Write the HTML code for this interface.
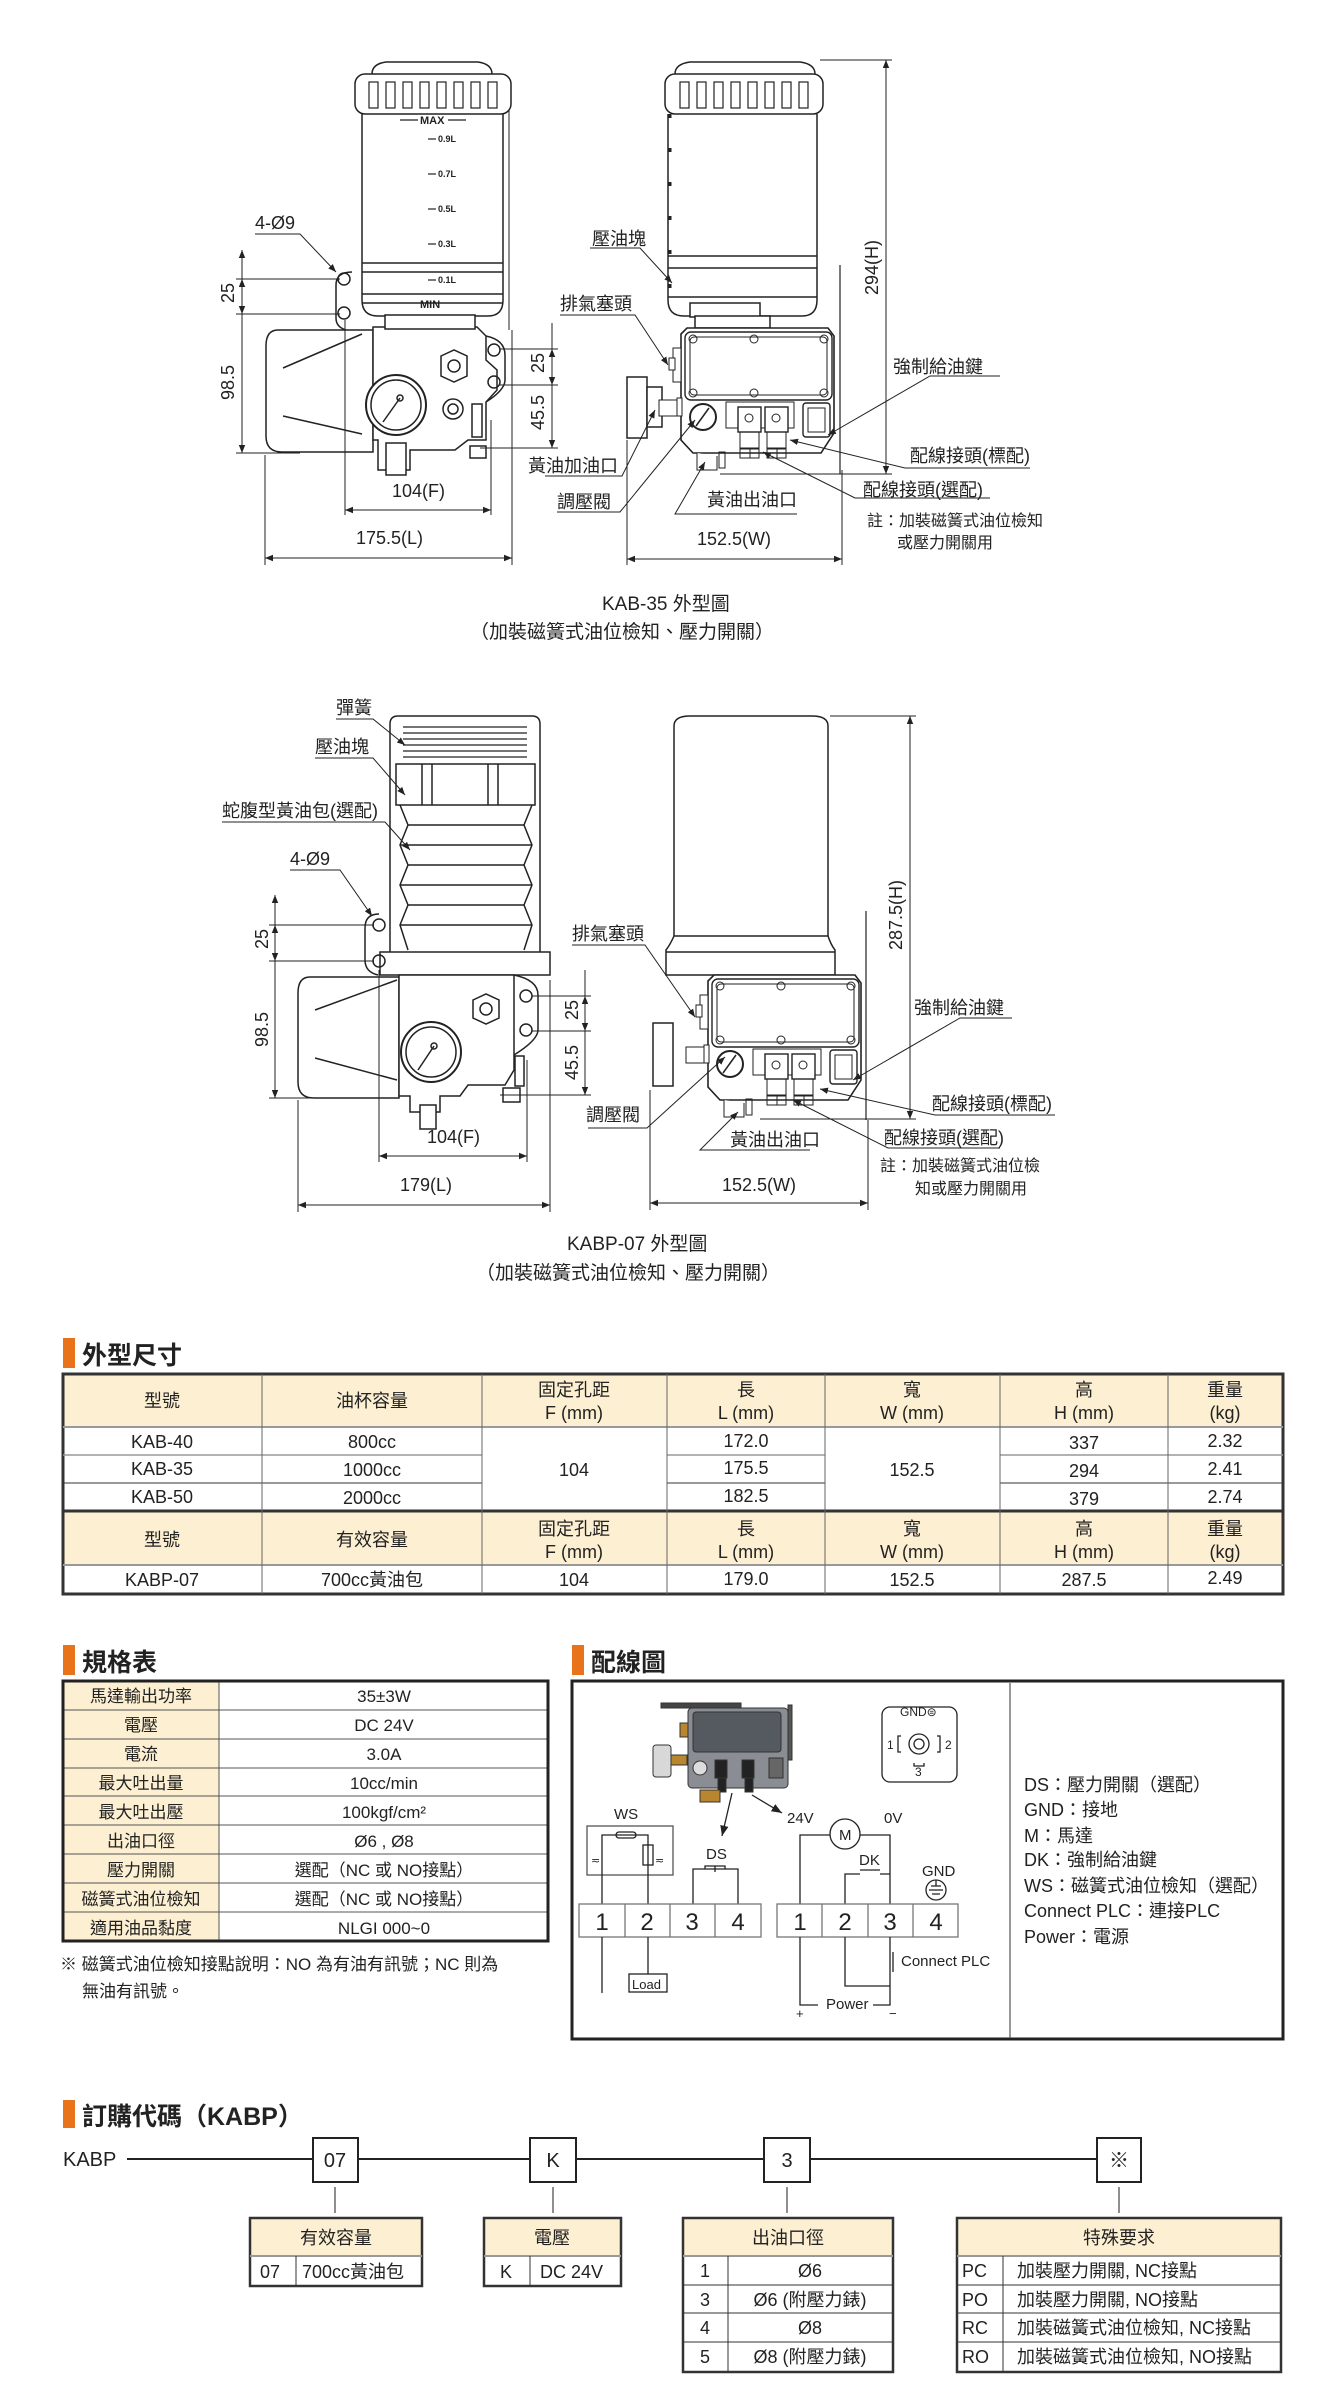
<!DOCTYPE html>
<html><head><meta charset="utf-8"><style>
html,body{margin:0;padding:0;background:#fff}
svg{display:block}
text{font-family:"Liberation Sans","Noto Sans CJK TC",sans-serif;fill:#222}
</style></head><body>
<svg width="1337" height="2395" viewBox="0 0 1337 2395" xmlns="http://www.w3.org/2000/svg">
<defs>
<marker id="ar" viewBox="0 0 10 10" refX="10" refY="5" markerWidth="8" markerHeight="8" orient="auto-start-reverse"><path d="M0,1 L10,5 L0,9 z" fill="#222"/></marker>
<g id="ribs" stroke="#222" stroke-width="1.2" fill="none">
 <rect x="0" y="0" width="9" height="26"/><rect x="17" y="0" width="9" height="26"/><rect x="34" y="0" width="9" height="26"/><rect x="51" y="0" width="9" height="26"/><rect x="68" y="0" width="9" height="26"/><rect x="85" y="0" width="9" height="26"/><rect x="102" y="0" width="9" height="26"/><rect x="119" y="0" width="9" height="26"/>
</g>
<g id="cbox">
 <path d="M6,0 H147 L153,8 V105 L140,125 H12 L0,112 V6 Z" fill="#fff" stroke="#222" stroke-width="1.6"/>
 <rect x="4" y="4" width="147" height="68" rx="6" fill="none" stroke="#222" stroke-width="1.4"/>
 <rect x="9" y="9" width="137" height="58" rx="4" fill="none" stroke="#222" stroke-width="1"/>
 <circle cx="12" cy="11" r="4" fill="none" stroke="#222"/><circle cx="73" cy="11" r="4" fill="none" stroke="#222"/><circle cx="143" cy="11" r="4" fill="none" stroke="#222"/>
 <circle cx="12" cy="65" r="4" fill="none" stroke="#222"/><circle cx="73" cy="65" r="4" fill="none" stroke="#222"/><circle cx="143" cy="65" r="4" fill="none" stroke="#222"/>
 <path d="M45,74 H113 V100 H45 Z" fill="none" stroke="#222"/>
 <circle cx="22" cy="89" r="13" fill="#fff" stroke="#222" stroke-width="2"/><line x1="15" y1="98" x2="28" y2="80" stroke="#222" stroke-width="1.5"/>
 <rect x="57" y="79" width="23" height="25" fill="#fff" stroke="#222" stroke-width="1.4"/><circle cx="68" cy="90" r="4" fill="none" stroke="#222"/>
 <rect x="84" y="79" width="23" height="25" fill="#fff" stroke="#222" stroke-width="1.4"/><circle cx="95" cy="90" r="4" fill="none" stroke="#222"/>
 <rect x="59" y="104" width="19" height="16" fill="none" stroke="#222"/><rect x="86" y="104" width="19" height="16" fill="none" stroke="#222"/>
 <rect x="59" y="121" width="10" height="9" fill="none" stroke="#222"/><rect x="69" y="121" width="9" height="9" fill="none" stroke="#222"/>
 <rect x="86" y="121" width="10" height="9" fill="none" stroke="#222"/><rect x="96" y="121" width="9" height="9" fill="none" stroke="#222"/>
 <rect x="122" y="75" width="27" height="34" rx="3" fill="none" stroke="#222" stroke-width="1.4"/><rect x="127" y="80" width="17" height="24" fill="none" stroke="#222"/>
 <rect x="-8" y="20" width="8" height="34" fill="#fff" stroke="#222"/><rect x="-12" y="30" width="6" height="12" fill="#fff" stroke="#222"/>
 <rect x="-4" y="70" width="5" height="18" fill="#fff" stroke="#222"/><rect x="-22" y="72" width="18" height="16" fill="#fff" stroke="#222"/>
 <path d="M16,125 V142 H36 V128" fill="#fff" stroke="#222"/><rect x="38" y="124" width="6" height="16" fill="none" stroke="#222"/>
</g>
</defs>

<!-- ============ DIAGRAM 1 : KAB-35 ============ -->
<g stroke="#222" fill="none" stroke-width="1.5">
 <path d="M372,74 Q372,64 386,62 H478 Q492,64 492,74" fill="#fff"/>
 <rect x="355" y="74" width="156" height="40" rx="10" fill="#fff"/>
 <path d="M362,114 V300 Q362,316 378,316 H488 Q503,316 503,300 V114"/>
 <line x1="362" y1="263" x2="503" y2="263"/><line x1="362" y1="272" x2="503" y2="272"/>
 <line x1="362" y1="294" x2="503" y2="294"/><line x1="362" y1="303" x2="503" y2="303"/>
 <line x1="509" y1="110" x2="509" y2="330" stroke-width="1"/>
 <path d="M352,272 Q336,272 336,285 V318 Q336,327 346,330" fill="#fff"/>
 <circle cx="344" cy="279" r="6"/><circle cx="344" cy="313" r="6"/>
 <path d="M278,330 H373 V452 H282 Q266,452 266,436 V346 Q266,330 278,330 Z" fill="#fff"/>
 <line x1="283" y1="368" x2="362" y2="334"/><line x1="283" y1="416" x2="362" y2="434"/>
 <path d="M373,327 H477 L486,336 V360 L497,370 V390 L486,402 V440 H468 L455,450 H410 V470 H378 V440 H373 Z" fill="#fff"/>
 <rect x="385" y="315" width="90" height="14" fill="#fff"/>
 <path d="M486,336 Q505,340 505,355 V380 Q505,390 486,402"/>
 <circle cx="494" cy="350" r="6"/><circle cx="494" cy="382" r="6"/>
 <circle cx="396" cy="405" r="30" fill="#fff" stroke-width="2"/><circle cx="396" cy="405" r="25"/>
 <line x1="383" y1="422" x2="400" y2="398"/><circle cx="400" cy="398" r="3"/>
 <path d="M441,356 L454,350 L467,356 V376 L454,382 L441,376 Z" fill="#fff"/><circle cx="454" cy="366" r="6"/>
 <circle cx="453" cy="409" r="10"/><circle cx="453" cy="409" r="5"/>
 <rect x="386" y="443" width="20" height="32" fill="#fff"/>
 <rect x="472" y="404" width="10" height="33" fill="#fff"/><rect x="470" y="446" width="16" height="12" fill="#fff"/>
 <path d="M675,74 Q675,64 690,62 H800 Q815,64 815,74" fill="#fff"/>
 <rect x="665" y="74" width="158" height="40" rx="10" fill="#fff"/>
 <path d="M668,114 V300 Q668,316 684,316 H802 Q817,316 817,300 V114"/>
 <line x1="668" y1="256" x2="817" y2="256"/><line x1="668" y1="268" x2="817" y2="268"/><line x1="668" y1="297" x2="817" y2="297"/>
 <line x1="670" y1="114" x2="670" y2="300" stroke-width="3" stroke-dasharray="4,30"/>
 <rect x="690" y="303" width="70" height="14" fill="#fff"/>
 <rect x="695" y="316" width="75" height="12" fill="#fff"/>
 <line x1="840" y1="265" x2="840" y2="474" stroke-width="1.2"/>
 <rect x="627" y="377" width="20" height="61" fill="#fff"/>
 <rect x="647" y="387" width="15" height="40" fill="#fff"/>
</g>
<use href="#ribs" x="369" y="82"/>
<use href="#ribs" x="680" y="82"/>
<use href="#cbox" x="681" y="328"/>
<g font-size="9" font-weight="bold">
 <text x="420" y="124" font-size="11">MAX</text>
 <text x="438" y="142">0.9L</text><text x="438" y="177">0.7L</text><text x="438" y="212">0.5L</text><text x="438" y="247">0.3L</text><text x="438" y="283">0.1L</text>
 <text x="420" y="308" font-size="11">MIN</text>
</g>
<g stroke="#222" stroke-width="1.2">
 <line x1="400" y1="120" x2="418" y2="120"/><line x1="448" y1="120" x2="466" y2="120"/>
 <line x1="428" y1="139" x2="436" y2="139"/><line x1="428" y1="174" x2="436" y2="174"/><line x1="428" y1="209" x2="436" y2="209"/><line x1="428" y1="244" x2="436" y2="244"/><line x1="428" y1="280" x2="436" y2="280"/>
</g>
<g stroke="#222" stroke-width="1" fill="none">
 <line x1="236" y1="279" x2="340" y2="279"/><line x1="236" y1="314" x2="340" y2="314"/><line x1="236" y1="453" x2="300" y2="453"/>
 <line x1="242" y1="250" x2="242" y2="453" marker-start="url(#ar)" marker-end="url(#ar)"/>
 <line x1="242" y1="279" x2="242" y2="314" marker-start="url(#ar)" marker-end="url(#ar)"/>
 <line x1="500" y1="349" x2="558" y2="349"/><line x1="500" y1="385" x2="558" y2="385"/><line x1="480" y1="448" x2="558" y2="448"/>
 <line x1="552" y1="323" x2="552" y2="385" marker-end="url(#ar)"/><line x1="552" y1="349" x2="552" y2="448" marker-start="url(#ar)" marker-end="url(#ar)"/>
 <line x1="345" y1="320" x2="345" y2="515"/><line x1="491" y1="420" x2="491" y2="515"/>
 <line x1="345" y1="510" x2="491" y2="510" marker-start="url(#ar)" marker-end="url(#ar)"/>
 <line x1="265" y1="455" x2="265" y2="565"/><line x1="512" y1="330" x2="512" y2="565"/>
 <line x1="265" y1="558" x2="512" y2="558" marker-start="url(#ar)" marker-end="url(#ar)"/>
 <line x1="627" y1="440" x2="627" y2="565"/><line x1="842" y1="470" x2="842" y2="565"/>
 <line x1="627" y1="559" x2="842" y2="559" marker-start="url(#ar)" marker-end="url(#ar)"/>
 <line x1="820" y1="60" x2="892" y2="60"/><line x1="720" y1="474" x2="892" y2="474"/>
 <line x1="886" y1="60" x2="886" y2="474" marker-start="url(#ar)" marker-end="url(#ar)"/>
 <polyline points="255,234 300,234 336,272" marker-end="url(#ar)"/>
 <polyline points="590,248 640,248 672,283" marker-end="url(#ar)"/>
 <polyline points="560,315 635,315 668,365" marker-end="url(#ar)"/>
 <polyline points="545,476 622,476 655,410" marker-end="url(#ar)"/>
 <polyline points="557,512 620,512 695,420" marker-end="url(#ar)"/>
 <polyline points="797,514 675,514 705,462" marker-end="url(#ar)"/>
 <polyline points="1000,376 930,376 828,435" marker-end="url(#ar)"/>
 <polyline points="1030,468 905,468 790,440" marker-end="url(#ar)"/>
 <polyline points="990,498 855,498 763,452" marker-end="url(#ar)"/>
</g>
<g font-size="18">
 <text x="255" y="229">4-Ø9</text>
 <text transform="translate(234,303) rotate(-90)">25</text>
 <text transform="translate(234,400) rotate(-90)">98.5</text>
 <text transform="translate(544,373) rotate(-90)">25</text>
 <text transform="translate(544,430) rotate(-90)">45.5</text>
 <text transform="translate(878,295) rotate(-90)">294(H)</text>
 <text x="392" y="497">104(F)</text>
 <text x="356" y="544">175.5(L)</text>
 <text x="697" y="545">152.5(W)</text>
 <text x="592" y="245">壓油塊</text>
 <text x="560" y="310">排氣塞頭</text>
 <text x="528" y="472">黃油加油口</text>
 <text x="557" y="508">調壓閥</text>
 <text x="707" y="506">黃油出油口</text>
 <text x="893" y="373">強制給油鍵</text>
 <text x="910" y="462">配線接頭(標配)</text>
 <text x="863" y="496">配線接頭(選配)</text>
 <text x="867" y="526" font-size="16">註：加裝磁簧式油位檢知</text>
 <text x="897" y="548" font-size="16">或壓力開關用</text>
 <text x="602" y="610" font-size="19">KAB-35 外型圖</text>
 <text x="470" y="638" font-size="19">（加裝磁簧式油位檢知、壓力開關）</text>
</g>

<!-- ============ DIAGRAM 2 : KABP-07 ============ -->
<g stroke="#222" fill="none" stroke-width="1.5">
 <path d="M390,952 V724 Q390,716 398,716 H532 Q540,716 540,724 V952" fill="#fff"/>
 <g stroke-width="1.2"><path d="M403,727 H527 M403,733 H527 M403,739 H527 M403,745 H527 M403,751 H527 M403,757 H527"/></g>
 <rect x="396" y="764" width="139" height="41" fill="#fff"/>
 <line x1="422" y1="764" x2="422" y2="805"/><line x1="432" y1="764" x2="432" y2="805"/>
 <line x1="488" y1="764" x2="488" y2="805"/><line x1="498" y1="764" x2="498" y2="805"/>
 <path d="M400,805 L408,825 L400,845 L408,865 L400,885 L408,905 L400,925 L408,950 M532,805 L524,825 L532,845 L524,865 L532,885 L524,905 L532,925 L524,950"/>
 <path d="M408,825 H524 M400,845 H532 M408,865 H524 M400,885 H532 M408,905 H524 M400,925 H532"/>
 <rect x="380" y="952" width="170" height="23" fill="#fff"/>
 <path d="M379,914 Q365,914 365,928 V960 Q365,972 378,975" fill="#fff"/>
 <circle cx="379" cy="925" r="6"/><circle cx="379" cy="961" r="6"/>
 <path d="M310,977 H399 V1098 H314 Q298,1098 298,1082 V993 Q298,977 310,977 Z" fill="#fff"/>
 <line x1="315" y1="1010" x2="397" y2="980"/><line x1="315" y1="1058" x2="397" y2="1080"/>
 <path d="M399,975 H514 V1070 L505,1085 H468 L460,1096 H440 V1112 H410 V1096 H399 Z" fill="#fff"/>
 <path d="M514,975 Q538,980 538,995 V1030 Q538,1040 514,1055"/>
 <circle cx="526" cy="996" r="6"/><circle cx="526" cy="1030" r="6"/>
 <circle cx="431" cy="1052" r="30" fill="#fff" stroke-width="2"/><circle cx="431" cy="1052" r="25"/>
 <line x1="418" y1="1070" x2="434" y2="1046"/><circle cx="434" cy="1046" r="3"/>
 <path d="M473,1000 L486,994 L499,1000 V1018 L486,1024 L473,1018 Z" fill="#fff"/><circle cx="486" cy="1009" r="6"/>
 <rect x="515" y="1056" width="9" height="30" fill="#fff"/><rect x="503" y="1088" width="17" height="14" fill="#fff"/>
 <rect x="420" y="1105" width="16" height="24" fill="#fff"/>
 <path d="M674,936 V726 Q674,716 690,716 H812 Q828,716 828,726 V936" fill="#fff"/>
 <path d="M674,936 Q670,945 666,950 V975 H835 V950 Q831,945 828,936 Z" fill="#fff"/>
 <line x1="666" y1="952" x2="835" y2="952"/>
 <line x1="866" y1="911" x2="866" y2="1120" stroke-width="1.2"/>
 <rect x="653" y="1023" width="20" height="63" fill="#fff"/>
</g>
<use href="#cbox" x="708" y="975"/>
<g stroke="#222" stroke-width="1" fill="none">
 <line x1="269" y1="925" x2="374" y2="925"/><line x1="269" y1="961" x2="374" y2="961"/><line x1="269" y1="1098" x2="330" y2="1098"/>
 <line x1="275" y1="895" x2="275" y2="1098" marker-start="url(#ar)" marker-end="url(#ar)"/>
 <line x1="275" y1="925" x2="275" y2="961" marker-start="url(#ar)" marker-end="url(#ar)"/>
 <line x1="532" y1="996" x2="591" y2="996"/><line x1="532" y1="1031" x2="591" y2="1031"/><line x1="500" y1="1095" x2="591" y2="1095"/>
 <line x1="585" y1="970" x2="585" y2="1031" marker-end="url(#ar)"/><line x1="585" y1="996" x2="585" y2="1095" marker-start="url(#ar)" marker-end="url(#ar)"/>
 <line x1="379" y1="970" x2="379" y2="1162"/><line x1="527" y1="1060" x2="527" y2="1162"/>
 <line x1="379" y1="1156" x2="527" y2="1156" marker-start="url(#ar)" marker-end="url(#ar)"/>
 <line x1="298" y1="1100" x2="298" y2="1212"/><line x1="550" y1="980" x2="550" y2="1212"/>
 <line x1="298" y1="1205" x2="550" y2="1205" marker-start="url(#ar)" marker-end="url(#ar)"/>
 <line x1="650" y1="1090" x2="650" y2="1210"/><line x1="868" y1="1120" x2="868" y2="1210"/>
 <line x1="650" y1="1203" x2="868" y2="1203" marker-start="url(#ar)" marker-end="url(#ar)"/>
 <line x1="830" y1="716" x2="916" y2="716"/><line x1="760" y1="1119" x2="916" y2="1119"/>
 <line x1="910" y1="716" x2="910" y2="1119" marker-start="url(#ar)" marker-end="url(#ar)"/>
 <polyline points="336,719 373,719 405,745" marker-end="url(#ar)"/>
 <polyline points="315,758 373,758 405,795" marker-end="url(#ar)"/>
 <polyline points="222,822 385,822 410,850" marker-end="url(#ar)"/>
 <polyline points="290,870 340,870 372,916" marker-end="url(#ar)"/>
 <polyline points="572,945 645,945 695,1017" marker-end="url(#ar)"/>
 <polyline points="588,1128 647,1128 725,1057" marker-end="url(#ar)"/>
 <polyline points="810,1150 700,1150 738,1112" marker-end="url(#ar)"/>
 <polyline points="1012,1018 960,1018 853,1080" marker-end="url(#ar)"/>
 <polyline points="1055,1115 935,1115 820,1089" marker-end="url(#ar)"/>
 <polyline points="1000,1148 888,1148 793,1100" marker-end="url(#ar)"/>
</g>
<g font-size="18">
 <text x="336" y="714">彈簧</text>
 <text x="315" y="753">壓油塊</text>
 <text x="222" y="817">蛇腹型黃油包(選配)</text>
 <text x="290" y="865">4-Ø9</text>
 <text transform="translate(268,949) rotate(-90)">25</text>
 <text transform="translate(268,1047) rotate(-90)">98.5</text>
 <text transform="translate(578,1020) rotate(-90)">25</text>
 <text transform="translate(578,1080) rotate(-90)">45.5</text>
 <text transform="translate(902,950) rotate(-90)">287.5(H)</text>
 <text x="427" y="1143">104(F)</text>
 <text x="400" y="1191">179(L)</text>
 <text x="722" y="1191">152.5(W)</text>
 <text x="572" y="940">排氣塞頭</text>
 <text x="586" y="1121">調壓閥</text>
 <text x="730" y="1146">黃油出油口</text>
 <text x="914" y="1014">強制給油鍵</text>
 <text x="932" y="1110">配線接頭(標配)</text>
 <text x="884" y="1144">配線接頭(選配)</text>
 <text x="880" y="1171" font-size="16">註：加裝磁簧式油位檢</text>
 <text x="915" y="1194" font-size="16">知或壓力開關用</text>
 <text x="567" y="1250" font-size="19">KABP-07 外型圖</text>
 <text x="476" y="1279" font-size="19">（加裝磁簧式油位檢知、壓力開關）</text>
</g>

<!-- ============ 外型尺寸 table ============ -->
<rect x="63" y="1338" width="12" height="30" fill="#E8731A"/>
<text x="82" y="1364" font-size="25" font-weight="bold">外型尺寸</text>
<rect x="63" y="1374" width="1220" height="53" fill="#FCEFD2"/>
<rect x="63" y="1511" width="1220" height="54" fill="#FCEFD2"/>
<g stroke="#333" fill="none">
 <rect x="63" y="1374" width="1220" height="220" stroke-width="3"/>
 <line x1="63" y1="1511" x2="1283" y2="1511" stroke-width="3"/>
 <line x1="63" y1="1427" x2="1283" y2="1427" stroke="#999" stroke-width="2"/>
 <line x1="63" y1="1565" x2="1283" y2="1565" stroke="#999" stroke-width="2"/>
 <line x1="63" y1="1455" x2="482" y2="1455" stroke="#999" stroke-width="1.5"/><line x1="63" y1="1483" x2="482" y2="1483"/>
 <line x1="667" y1="1455" x2="825" y2="1455" stroke="#999" stroke-width="1.5"/><line x1="667" y1="1483" x2="825" y2="1483"/>
 <line x1="1000" y1="1455" x2="1283" y2="1455" stroke="#999" stroke-width="1.5"/><line x1="1000" y1="1483" x2="1283" y2="1483"/>
 <g stroke="#666"><line x1="262" y1="1374" x2="262" y2="1594"/><line x1="482" y1="1374" x2="482" y2="1594"/><line x1="667" y1="1374" x2="667" y2="1594"/><line x1="825" y1="1374" x2="825" y2="1594"/><line x1="1000" y1="1374" x2="1000" y2="1594"/><line x1="1168" y1="1374" x2="1168" y2="1594"/></g>
</g>
<g font-size="18" text-anchor="middle">
 <text x="162" y="1407">型號</text><text x="372" y="1407">油杯容量</text>
 <text x="574" y="1396">固定孔距</text><text x="574" y="1419">F (mm)</text>
 <text x="746" y="1396">長</text><text x="746" y="1419">L (mm)</text>
 <text x="912" y="1396">寬</text><text x="912" y="1419">W (mm)</text>
 <text x="1084" y="1396">高</text><text x="1084" y="1419">H (mm)</text>
 <text x="1225" y="1396">重量</text><text x="1225" y="1419">(kg)</text>
 <text x="162" y="1448">KAB-40</text><text x="372" y="1448">800cc</text><text x="746" y="1447">172.0</text><text x="1084" y="1449">337</text><text x="1225" y="1447">2.32</text>
 <text x="162" y="1475">KAB-35</text><text x="372" y="1476">1000cc</text><text x="746" y="1474">175.5</text><text x="1084" y="1477">294</text><text x="1225" y="1475">2.41</text>
 <text x="162" y="1503">KAB-50</text><text x="372" y="1504">2000cc</text><text x="746" y="1502">182.5</text><text x="1084" y="1505">379</text><text x="1225" y="1503">2.74</text>
 <text x="574" y="1476">104</text><text x="912" y="1476">152.5</text>
 <text x="162" y="1546">型號</text><text x="372" y="1546">有效容量</text>
 <text x="574" y="1535">固定孔距</text><text x="574" y="1558">F (mm)</text>
 <text x="746" y="1535">長</text><text x="746" y="1558">L (mm)</text>
 <text x="912" y="1535">寬</text><text x="912" y="1558">W (mm)</text>
 <text x="1084" y="1535">高</text><text x="1084" y="1558">H (mm)</text>
 <text x="1225" y="1535">重量</text><text x="1225" y="1558">(kg)</text>
 <text x="162" y="1586">KABP-07</text><text x="372" y="1586">700cc黃油包</text><text x="574" y="1586">104</text><text x="746" y="1585">179.0</text><text x="912" y="1586">152.5</text><text x="1084" y="1586">287.5</text><text x="1225" y="1584">2.49</text>
</g>

<!-- ============ 規格表 ============ -->
<rect x="63" y="1645" width="12" height="30" fill="#E8731A"/>
<text x="82" y="1671" font-size="25" font-weight="bold">規格表</text>
<rect x="63" y="1681" width="156" height="260" fill="#FCEFD2"/>
<g stroke="#555" fill="none">
 <line x1="219" y1="1681" x2="219" y2="1941"/>
 <line x1="63" y1="1710" x2="548" y2="1710"/><line x1="63" y1="1739" x2="548" y2="1739"/><line x1="63" y1="1768" x2="548" y2="1768"/><line x1="63" y1="1796" x2="548" y2="1796"/><line x1="63" y1="1825" x2="548" y2="1825"/><line x1="63" y1="1854" x2="548" y2="1854"/><line x1="63" y1="1883" x2="548" y2="1883"/><line x1="63" y1="1912" x2="548" y2="1912"/>
 <rect x="63" y="1681" width="485" height="260" stroke="#222" stroke-width="3"/>
</g>
<g font-size="17" text-anchor="middle">
 <text x="141" y="1702">馬達輸出功率</text><text x="384" y="1702">35±3W</text>
 <text x="141" y="1731">電壓</text><text x="384" y="1731">DC 24V</text>
 <text x="141" y="1760">電流</text><text x="384" y="1760">3.0A</text>
 <text x="141" y="1789">最大吐出量</text><text x="384" y="1789">10cc/min</text>
 <text x="141" y="1818">最大吐出壓</text><text x="384" y="1818">100kgf/cm²</text>
 <text x="141" y="1847">出油口徑</text><text x="384" y="1847">Ø6 , Ø8</text>
 <text x="141" y="1876">壓力開關</text><text x="384" y="1876">選配（NC 或 NO接點）</text>
 <text x="141" y="1905">磁簧式油位檢知</text><text x="384" y="1905">選配（NC 或 NO接點）</text>
 <text x="141" y="1934">適用油品黏度</text><text x="384" y="1934">NLGI 000~0</text>
</g>
<text x="60" y="1970" font-size="17">※ 磁簧式油位檢知接點說明：NO 為有油有訊號；NC 則為</text>
<text x="82" y="1997" font-size="17">無油有訊號。</text>

<!-- ============ 配線圖 ============ -->
<rect x="572" y="1645" width="12" height="30" fill="#E8731A"/>
<text x="591" y="1671" font-size="25" font-weight="bold">配線圖</text>
<rect x="572" y="1681" width="711" height="358" fill="none" stroke="#222" stroke-width="3"/>
<line x1="1010" y1="1683" x2="1010" y2="2038" stroke="#555" stroke-width="1.2"/>
<g stroke="#333" stroke-width="1">
 <rect x="661" y="1703" width="80" height="5" fill="#444"/>
 <rect x="688" y="1708" width="100" height="80" rx="4" fill="#8a8e94"/>
 <rect x="693" y="1712" width="88" height="40" rx="3" fill="#555a60"/>
 <rect x="715" y="1760" width="12" height="18" fill="#222"/><rect x="742" y="1760" width="12" height="18" fill="#222"/>
 <rect x="769" y="1758" width="14" height="20" fill="#666"/>
 <circle cx="700" cy="1768" r="7" fill="#ddd"/>
 <rect x="718" y="1778" width="8" height="14" fill="#222"/><rect x="745" y="1778" width="8" height="14" fill="#222"/>
 <rect x="653" y="1745" width="18" height="32" rx="3" fill="#d8d8d8"/>
 <rect x="680" y="1723" width="8" height="14" fill="#b8862e"/><rect x="671" y="1755" width="16" height="10" fill="#b8862e"/>
 <rect x="700" y="1790" width="20" height="12" fill="#b8862e"/>
 <rect x="788" y="1705" width="4" height="55" fill="#555"/>
</g>
<g stroke="#222" stroke-width="1.3" fill="none">
 <line x1="732" y1="1793" x2="722" y2="1836" marker-end="url(#ar)"/>
 <line x1="752" y1="1795" x2="782" y2="1813" marker-end="url(#ar)"/>
 <rect x="882" y="1707" width="75" height="75" rx="8"/>
 <circle cx="919" cy="1744" r="10"/><circle cx="919" cy="1744" r="5"/>
 <path d="M901,1736 h-3 v16 h3 M937,1736 h3 v16 h-3 M914,1763 v3 h10 v-3"/>
 <rect x="587" y="1826" width="86" height="49" stroke="#555"/>
 <path d="M602,1904 V1835 H648 V1904"/>
 <rect x="616" y="1832" width="20" height="6" rx="3"/>
 <rect x="643" y="1845" width="10" height="20"/>
 <path d="M693,1904 V1869 H738 V1904"/><path d="M705,1869 v-3 h20 v3 M715,1866 v6"/>
 <path d="M800,1904 V1835 H830 M860,1835 H890 V1904"/>
 <circle cx="845" cy="1834" r="15"/>
 <path d="M845,1904 V1874 H860 M880,1874 H890"/><path d="M860,1870 h20"/>
 <circle cx="936" cy="1890" r="10"/><path d="M931,1886 h10 M929,1890 h14 M932,1894 h8 M936,1880 v6"/>
 <rect x="579" y="1904" width="182" height="33" stroke="#777"/>
 <line x1="625" y1="1904" x2="625" y2="1937" stroke="#777"/><line x1="670" y1="1904" x2="670" y2="1937" stroke="#777"/><line x1="715" y1="1904" x2="715" y2="1937" stroke="#777"/>
 <rect x="777" y="1904" width="181" height="33" stroke="#777"/>
 <line x1="822" y1="1904" x2="822" y2="1937" stroke="#777"/><line x1="868" y1="1904" x2="868" y2="1937" stroke="#777"/><line x1="913" y1="1904" x2="913" y2="1937" stroke="#777"/>
 <line x1="602" y1="1937" x2="602" y2="1993"/><line x1="648" y1="1937" x2="648" y2="1974"/>
 <rect x="629" y="1974" width="38" height="18"/>
 <path d="M800,1937 V2005 H818 M873,2005 H890 V1937"/>
 <path d="M845,1937 V1986 H890"/>
 <path d="M893,1952 v20"/>
</g>
<g font-size="15">
 <text x="614" y="1819">WS</text><text x="706" y="1859">DS</text>
 <text x="787" y="1823">24V</text><text x="884" y="1823">0V</text>
 <text x="839" y="1840" font-size="15">M</text>
 <text x="859" y="1865">DK</text><text x="922" y="1876">GND</text>
 <text x="900" y="1716" font-size="12">GND⊜</text>
 <text x="887" y="1749" font-size="12">1</text><text x="945" y="1749" font-size="12">2</text><text x="915" y="1776" font-size="12">3</text>
 <text x="632" y="1989" font-size="13">Load</text>
 <text x="901" y="1966">Connect PLC</text>
 <text x="826" y="2009">Power</text>
 <text x="796" y="2018" font-size="13">+</text><text x="889" y="2018" font-size="13">−</text>
 <text x="591" y="1864" font-size="11">≂</text><text x="655" y="1864" font-size="11">≂</text>
</g>
<g font-size="24" text-anchor="middle">
 <text x="602" y="1930">1</text><text x="647" y="1930">2</text><text x="692" y="1930">3</text><text x="738" y="1930">4</text>
 <text x="800" y="1930">1</text><text x="845" y="1930">2</text><text x="890" y="1930">3</text><text x="936" y="1930">4</text>
</g>
<g font-size="18">
 <text x="1024" y="1791">DS：壓力開關（選配）</text>
 <text x="1024" y="1816">GND：接地</text>
 <text x="1024" y="1842">M：馬達</text>
 <text x="1024" y="1866">DK：強制給油鍵</text>
 <text x="1024" y="1892">WS：磁簧式油位檢知（選配）</text>
 <text x="1024" y="1917">Connect PLC：連接PLC</text>
 <text x="1024" y="1943">Power：電源</text>
</g>

<!-- ============ 訂購代碼 ============ -->
<rect x="63" y="2100" width="12" height="28" fill="#E8731A"/>
<text x="82" y="2125" font-size="25" font-weight="bold">訂購代碼（KABP）</text>
<text x="63" y="2166" font-size="20">KABP</text>
<g stroke="#222" stroke-width="2" fill="#fff">
 <line x1="127" y1="2159" x2="1097" y2="2159"/>
 <rect x="313" y="2138" width="45" height="44"/><rect x="530" y="2138" width="46" height="44"/>
 <rect x="764" y="2138" width="46" height="44"/><rect x="1097" y="2138" width="44" height="44"/>
</g>
<g stroke="#444" stroke-width="1.2">
 <line x1="335" y1="2187" x2="335" y2="2213"/><line x1="553" y1="2187" x2="553" y2="2213"/><line x1="787" y1="2187" x2="787" y2="2213"/><line x1="1119" y1="2187" x2="1119" y2="2213"/>
</g>
<g font-size="20" text-anchor="middle"><text x="335" y="2167">07</text><text x="553" y="2167">K</text><text x="787" y="2167">3</text><text x="1119" y="2167">※</text></g>
<g fill="#FCEFD2"><rect x="250" y="2218" width="172" height="38"/><rect x="484" y="2218" width="137" height="38"/><rect x="683" y="2218" width="210" height="38"/><rect x="957" y="2218" width="324" height="38"/></g>
<g stroke="#333" fill="none">
 <rect x="250" y="2218" width="172" height="68" stroke-width="2.5"/><line x1="250" y1="2256" x2="422" y2="2256" stroke="#999" stroke-width="2"/><line x1="296" y1="2256" x2="296" y2="2286"/>
 <rect x="484" y="2218" width="137" height="68" stroke-width="2.5"/><line x1="484" y1="2256" x2="621" y2="2256" stroke="#999" stroke-width="2"/><line x1="530" y1="2256" x2="530" y2="2286"/>
 <rect x="683" y="2218" width="210" height="154" stroke-width="2.5"/><line x1="683" y1="2256" x2="893" y2="2256" stroke="#999" stroke-width="2"/><line x1="728" y1="2256" x2="728" y2="2372"/>
 <line x1="683" y1="2285" x2="893" y2="2285"/><line x1="683" y1="2313" x2="893" y2="2313"/><line x1="683" y1="2342" x2="893" y2="2342"/>
 <rect x="957" y="2218" width="324" height="154" stroke-width="2.5"/><line x1="957" y1="2256" x2="1281" y2="2256" stroke="#999" stroke-width="2"/><line x1="1003" y1="2256" x2="1003" y2="2372"/>
 <line x1="957" y1="2285" x2="1281" y2="2285"/><line x1="957" y1="2313" x2="1281" y2="2313"/><line x1="957" y1="2342" x2="1281" y2="2342"/>
</g>
<g font-size="18">
 <text x="336" y="2244" text-anchor="middle">有效容量</text>
 <text x="260" y="2278">07</text><text x="302" y="2278">700cc黃油包</text>
 <text x="552" y="2244" text-anchor="middle">電壓</text>
 <text x="500" y="2278">K</text><text x="540" y="2278">DC 24V</text>
 <text x="788" y="2244" text-anchor="middle">出油口徑</text>
 <text x="700" y="2277">1</text><text x="810" y="2277" text-anchor="middle">Ø6</text>
 <text x="700" y="2306">3</text><text x="810" y="2306" text-anchor="middle">Ø6 (附壓力錶)</text>
 <text x="700" y="2334">4</text><text x="810" y="2334" text-anchor="middle">Ø8</text>
 <text x="700" y="2363">5</text><text x="810" y="2363" text-anchor="middle">Ø8 (附壓力錶)</text>
 <text x="1119" y="2244" text-anchor="middle">特殊要求</text>
 <text x="962" y="2277">PC</text><text x="1017" y="2277">加裝壓力開關, NC接點</text>
 <text x="962" y="2306">PO</text><text x="1017" y="2306">加裝壓力開關, NO接點</text>
 <text x="962" y="2334">RC</text><text x="1017" y="2334">加裝磁簧式油位檢知, NC接點</text>
 <text x="962" y="2363">RO</text><text x="1017" y="2363">加裝磁簧式油位檢知, NO接點</text>
</g>
</svg>
</body></html>
